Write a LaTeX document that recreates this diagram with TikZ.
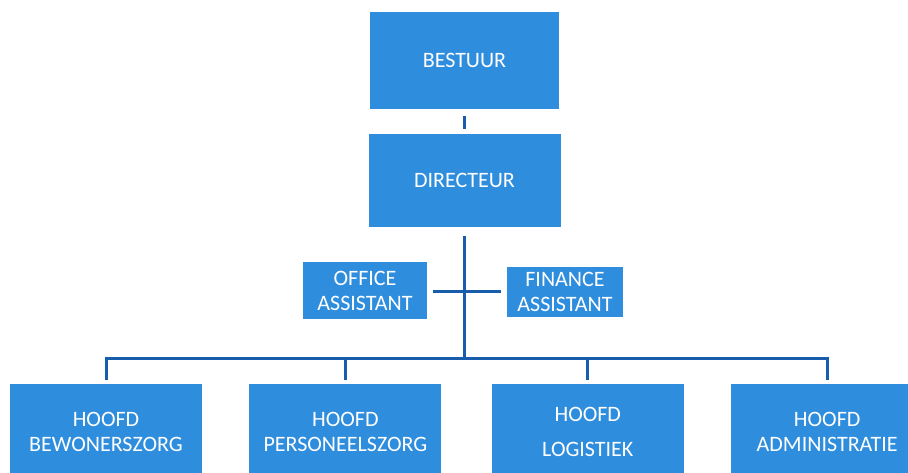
\documentclass[tikz,border=0pt]{standalone}
\usepackage{fontspec}
\setmainfont{Carlito}
\usetikzlibrary{positioning,calc}
\definecolor{orgblue}{RGB}{46,141,221}
\definecolor{orgline}{RGB}{24,92,172}
\tikzset{
  post/.style={rectangle, fill=orgblue, text=white, align=center, inner sep=0pt,
    minimum width=192pt, minimum height=95pt, font=\fontsize{22}{25}\selectfont},
  aide/.style={post, minimum height=52pt},
  link/.style={draw=orgline, line width=3pt, line cap=rect},
}

\begin{document}
\begin{tikzpicture}[x=1pt,y=-1pt]
  \clip (0,0) rectangle (908,472);
  \node[post, minimum width=189pt, minimum height=97pt]
    (bestuur) at (464.5,60.5) {BESTUUR};
  \node[post, minimum height=93pt, below=25pt of bestuur] (directeur) {DIRECTEUR};
  \node[aide, minimum width=124pt, minimum height=57pt]
    (office) at (365,290.5) {OFFICE\\ASSISTANT};
  \node[aide, minimum width=116pt, minimum height=50pt]
    (finance) at (565,292) {FINANCE\\ASSISTANT};
  \coordinate (cross) at (464,291);
  \coordinate (bus) at (464,358);

  % hoofden
  \node[post] (hbew) at (106,431.5) {HOOFD\\BEWONERSZORG};
  \node[post, right=47pt of hbew] (hper) {HOOFD\\PERSONEELSZORG};
  \node[post, right=50pt of hper] (hlog) {HOOFD\\[10pt]LOGISTIEK};
  \node[post, right=47pt of hlog] (hadm) {HOOFD\\ADMINISTRATIE};

  \draw[link, line cap=butt, shorten <=7pt, shorten >=5pt]
    (bestuur.south) -- (bestuur.south |- directeur.north);
  \draw[link, line cap=butt, shorten <=8pt] (directeur.south) -- (directeur.south |- bus);
  \draw[link, line cap=butt, shorten <=6pt, shorten >=6pt]
    (office.east |- cross) -- (finance.west |- cross);
  \draw[link] (hbew.north |- bus) -- (hadm.north |- bus);
  \foreach \n in {hbew,hper,hlog,hadm}
    \draw[link, shorten <=5pt] (\n.north) -- (\n.north |- bus);
\end{tikzpicture}
\end{document}
